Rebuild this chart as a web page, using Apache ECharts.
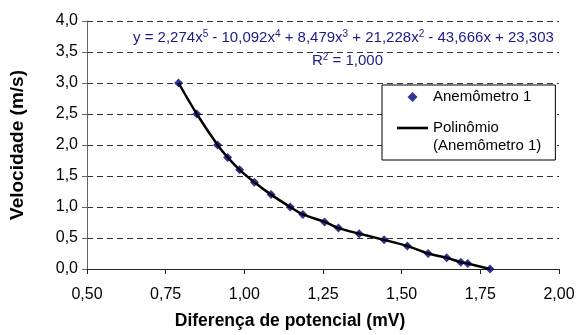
<!DOCTYPE html>
<html>
<head>
<meta charset="utf-8">
<script src="https://cdn.jsdelivr.net/npm/echarts@6/dist/echarts.min.js"></script>
<style>
  html, body { margin: 0; padding: 0; background: #fff; }
  #chart { width: 579px; height: 335px; }
</style>
</head>
<body>
<div id="chart"></div>
<script>
// Anemômetro 1: diferença de potencial (mV) x velocidade (m/s)
const voltage = [0.791, 0.849, 0.915, 0.947, 0.985, 1.032, 1.085, 1.146, 1.186, 1.255,
                 1.299, 1.365, 1.444, 1.518, 1.584, 1.643, 1.688, 1.710, 1.781];
const speed = [3.0, 2.5, 2.0, 1.8, 1.6, 1.4, 1.2, 1.0, 0.88, 0.76,
               0.66, 0.57, 0.47, 0.37, 0.25, 0.18, 0.11, 0.09, 0.0];

const xTicks = [0.5, 0.75, 1.0, 1.25, 1.5, 1.75, 2.0];
const yTicks = [0, 0.5, 1, 1.5, 2, 2.5, 3, 3.5, 4];

const seriesName = 'Anemômetro 1';
const trendName = 'Polinômio (Anemômetro 1)';

const points = voltage.map((v, i) => [v, speed[i]]);

const FONT = '"Liberation Sans", Arial, sans-serif';
const EQ_COLOR = '#1b1b8a';
const commaNum = (d) => (v) => v.toFixed(d).replace('.', ',');

const chart = echarts.init(document.getElementById('chart'), null, { renderer: 'canvas' });

const supRich = {
  s: { fontSize: 10, verticalAlign: 'top', fill: EQ_COLOR, lineHeight: 17 },
};

const option = {
  backgroundColor: '#fff',
  animation: false,
  textStyle: { fontFamily: FONT },
  grid: { left: 87, right: 20, top: 21, bottom: 66 },
  xAxis: {
    type: 'value',
    min: xTicks[0],
    max: xTicks[xTicks.length - 1],
    interval: 0.25,
    name: 'Diferença de potencial (mV)',
    nameLocation: 'middle',
    nameGap: 43,
    nameTextStyle: {
      fontSize: 17.5, fontWeight: 'bold', color: '#000', fontFamily: FONT,
      padding: [0, 66, 0, 0],
    },
    axisLine: { lineStyle: { color: '#222', width: 1 } },
    axisTick: { show: true, length: 5, lineStyle: { color: '#222' } },
    axisLabel: { color: '#000', fontSize: 16, margin: 18, formatter: commaNum(2) },
    splitLine: { show: false },
  },
  yAxis: {
    type: 'value',
    min: yTicks[0],
    max: yTicks[yTicks.length - 1],
    interval: 0.5,
    name: 'Velocidade (m/s)',
    nameLocation: 'middle',
    nameRotate: 90,
    nameGap: 60,
    nameTextStyle: { fontSize: 19, fontWeight: 'bold', color: '#000', fontFamily: FONT },
    axisLine: { show: true, lineStyle: { color: '#666', width: 1 } },
    axisTick: { show: true, length: 5, lineStyle: { color: '#666' } },
    axisLabel: { color: '#000', fontSize: 16, margin: 9, formatter: commaNum(1) },
    splitLine: {
      show: true,
      lineStyle: { color: '#333', width: 1, type: [6, 4] },
    },
  },
  legend: {
    orient: 'vertical',
    left: 382,
    top: 85,
    padding: [3, 14, 5, 15],
    itemGap: -5,
    itemWidth: 31,
    itemHeight: 10,
    itemTextGap: 5,
    borderColor: '#000',
    borderWidth: 1,
    borderRadius: 0,
    backgroundColor: '#fff',
    textStyle: { fontSize: 15, color: '#000', lineHeight: 18, fontFamily: FONT },
    data: [
      { name: seriesName, icon: 'path://M5,0L10,5L5,10L0,5Z' },
      { name: trendName, icon: 'path://M0,0L31,0L31,2.6L0,2.6Z' },
    ],
    formatter: (name) => name === trendName ? ' \nPolinômio\n(Anemômetro 1)' : name,
  },
  graphic: [
    {
      type: 'text',
      left: 133,
      top: 29,
      z: 10,
      style: {
        text: 'y = 2,274x{s|5} - 10,092x{s|4} + 8,479x{s|3} + 21,228x{s|2} - 43,666x + 23,303',
        fill: EQ_COLOR,
        font: '15px ' + FONT,
        rich: supRich,
      },
    },
    {
      type: 'text',
      left: 312,
      top: 52,
      z: 10,
      style: {
        text: 'R{s|2} = 1,000',
        fill: EQ_COLOR,
        font: '15px ' + FONT,
        rich: supRich,
      },
    },
  ],
  series: [
    {
      name: seriesName,
      type: 'scatter',
      data: points,
      symbol: 'diamond',
      symbolSize: 9,
      itemStyle: { color: '#000080' },
      z: 2,
    },
    {
      name: trendName,
      type: 'line',
      data: points,
      symbol: 'none',
      smooth: 0.3,
      lineStyle: { color: '#000', width: 2.5 },
      itemStyle: { color: '#000' },
      z: 3,
    },
  ],
};

chart.setOption(option);
</script>
</body>
</html>
